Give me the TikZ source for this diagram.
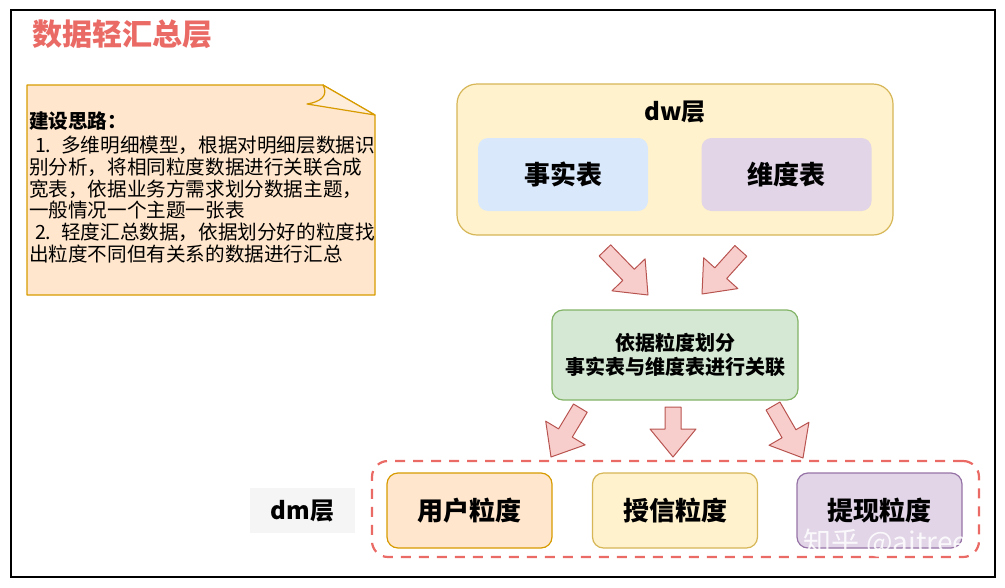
\documentclass[tikz,border=0pt]{standalone}
\usepackage{fontspec}
\setmainfont{Noto Sans CJK SC}
\definecolor{titlered}{HTML}{EA6B66}
\definecolor{notefill}{HTML}{FFE6CC}
\definecolor{noteline}{HTML}{D79B00}
\definecolor{yellowfill}{HTML}{FFF2CC}
\definecolor{yellowline}{HTML}{D6B656}
\definecolor{bluefill}{HTML}{DAE8FC}
\definecolor{purplefill}{HTML}{E1D5E7}
\definecolor{purpleline}{HTML}{9673A6}
\definecolor{greenfill}{HTML}{D5E8D4}
\definecolor{greenline}{HTML}{82B366}
\definecolor{pinkfill}{HTML}{F8CECC}
\definecolor{pinkline}{HTML}{B85450}
\definecolor{labelgray}{HTML}{F5F5F5}
\tikzset{
  pics/blockarrow/.style={code={
    \draw[line width=1pt,draw=pinkline,fill=pinkfill,line join=round]
      (-#1,-8) -- (-28,-8) -- (-28,-23) -- (0,0) -- (-28,23) -- (-28,8) -- (-#1,8) -- cycle;
  }}
}
\begin{document}
\begin{tikzpicture}[x=1pt,y=-1pt,
    box/.style={rounded corners=11pt,line width=1.2pt,inner sep=0pt,
      minimum width=165pt,minimum height=75pt,
      font=\fontsize{26}{30}\selectfont\bfseries},
    tablebox/.style={box,draw=none,rounded corners=10pt,minimum width=170pt,minimum height=73pt},
    layerlabel/.style={inner sep=0pt,font=\fontsize{24}{28}\selectfont\bfseries}]
  \useasboundingbox (0,0) rectangle (1005,587);
  \draw[line width=2pt] (11,10) rectangle (995,577);

  \node[text=titlered,font=\fontsize{30}{33}\selectfont\bfseries,inner sep=0pt] (title) at (122.5,34) {数据轻汇总层};

  %%%%%%%%%%%%%%%%%%%%%%%%%%%%%%%%%%%%%%%%%%%%%%%%%%%%%%%%%%%%%%%%%%%%%%%%%%%
  %%%%  Note
  \draw[line width=1.2pt,draw=noteline,fill=notefill,line join=round]
    (27,85) -- (323,85) -- (375,115) -- (375,295) -- (27,295) -- cycle;
  \draw[line width=1.2pt,draw=noteline,fill=notefill!70!white,line join=round]
    (323,85) .. controls (329,96) and (320,102) .. (307,104) -- (375,115) -- cycle;
  \node[anchor=north west,inner sep=0pt,text width=345pt,align=left,
    font=\fontsize{19.6}{21.7}\selectfont] (notetext) at (29,112)
    {\textbf{建设思路：}\\[2pt]
     \hspace{0.3em}1. 多维明细模型，根据对明细层数据识\\
     别分析，将相同粒度数据进行关联合成\\
     宽表，依据业务方需求划分数据主题，\\
     一般情况一个主题一张表\\
     \hspace{0.3em}2. 轻度汇总数据，依据划分好的粒度找\\
     出粒度不同但有关系的数据进行汇总};

  %%%%%%%%%%%%%%%%%%%%%%%%%%%%%%%%%%%%%%%%%%%%%%%%%%%%%%%%%%%%%%%%%%%%%%%%%%%
  %%%%  dw layer
  \node[box,draw=yellowline,fill=yellowfill,rounded corners=20pt,
    minimum width=436pt,minimum height=151pt] (dw) at (675,159.5) {};
  \node[layerlabel] (dwtitle) at (675,112) {dw层};
  \node[tablebox,fill=bluefill] (fact) at (563,174.5) {事实表};
  \node[tablebox,fill=purplefill] (dim) at (786.5,174.5) {维度表};

  %%%%%%%%%%%%%%%%%%%%%%%%%%%%%%%%%%%%%%%%%%%%%%%%%%%%%%%%%%%%%%%%%%%%%%%%%%%
  %%%%  Join
  \node[box,draw=greenline,fill=greenfill,minimum width=246pt,minimum height=90pt,
    align=center,font=\fontsize{20}{23.5}\selectfont\bfseries] (join) at (675,355)
    {依据粒度划分\\事实表与维度表进行关联};

  %%%%%%%%%%%%%%%%%%%%%%%%%%%%%%%%%%%%%%%%%%%%%%%%%%%%%%%%%%%%%%%%%%%%%%%%%%%
  %%%%  dm layer
  \node[draw=titlered,line width=2.2pt,dash pattern=on 10pt off 8pt,rounded corners=16pt,
    minimum width=607pt,minimum height=96pt] (dm) at (675.5,509) {};
  \node[layerlabel,fill=labelgray,minimum width=105pt,minimum height=45pt] (dmtitle) at (302.5,510.5) {dm层};
  \foreach \nm/\x/\txt/\fc/\dc in {user/469.5/用户粒度/notefill/noteline,
                                    credit/675/授信粒度/yellowfill/yellowline,
                                    cash/879.5/提现粒度/purplefill/purpleline}
    {\node[box,fill=\fc,draw=\dc] (\nm) at (\x,510.5) {\txt};};

  %%%%%%%%%%%%%%%%%%%%%%%%%%%%%%%%%%%%%%%%%%%%%%%%%%%%%%%%%%%%%%%%%%%%%%%%%%%
  %%%%  Arrows
  \foreach \nm/\x/\y/\ang/\len in {aUL/648/295/-46/62, aUR/702/294/-132/58,
                                   aDL/551/457/-121/57, aDM/673/457/-90/50, aDR/803/458/-60/60}
    {\pic[rotate=\ang] (\nm) at (\x,\y) {blockarrow=\len};};

  \node[text=white,opacity=0.85,font=\fontsize{28}{30}\selectfont,inner sep=0pt] (mark) at (886,543) {知乎 @aitree};
\end{tikzpicture}
\end{document}
